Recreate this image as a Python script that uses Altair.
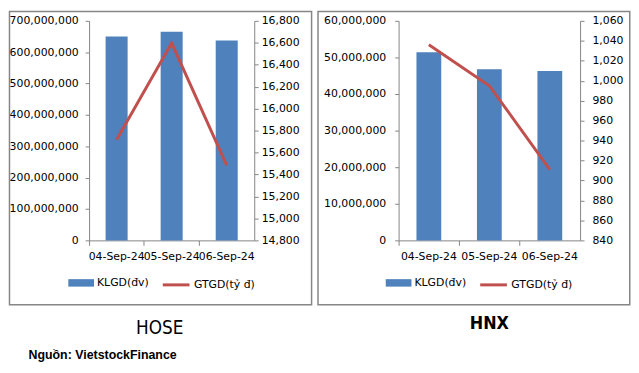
import altair as alt
import pandas as pd

dates = ["04-Sep-24", "05-Sep-24", "06-Sep-24"]
series = ["KLGD(đv)", "GTGD(tỷ đ)"]
hose_vol = [650_000_000, 665_000_000, 637_000_000]
hose_val = [15717, 16598, 15483]
hnx_vol = [51_400_000, 46_800_000, 46_300_000]
hnx_val = [1036, 995, 911]
titles = ["HOSE", "HNX"]
source = "Nguồn: VietstockFinance"

FONT = "DejaVu Sans"
TFONT = "Liberation Sans Narrow, DejaVu Sans Condensed, sans-serif"
BLUE = "#4F81BD"
RED = "#C0504D"
GREY = "#868686"
TXT = "#000000"


def ax(**kw):
    base = dict(
        labelFont=FONT, labelFontSize=11, labelColor=TXT, domainColor=GREY,
        tickColor=GREY, grid=False, title=None, tickSize=4,
    )
    base.update(kw)
    return alt.Axis(**base)


def panel(vol, val, vmax, vstep, wmin, wmax, wstep, width, barfrac, border, lx, title,
          tdx, toff, tweight, tsize, lpl, lpr):
    df = pd.DataFrame({"date": dates, "vol": vol, "val": val,
                       "k1": [series[0]] * len(dates), "k2": [series[1]] * len(dates)})
    base = alt.Chart(df)
    x = alt.X("date:N", sort=dates, title=None,
              scale=alt.Scale(paddingInner=0, paddingOuter=0),
              axis=ax(bandPosition=0, labelAngle=0, tickSize=5,
                      labelPadding=5, labelOverlap=False))
    ly = 252
    bars = base.mark_bar(color=BLUE, width=alt.RelativeBandSize(barfrac)).encode(
        x=x,
        y=alt.Y("vol:Q", scale=alt.Scale(domain=[0, vmax], nice=False),
                axis=ax(values=list(range(0, vmax + 1, vstep)), format=",.0f",
                        labelPadding=lpl)),
        fill=alt.Fill("k1:N", scale=alt.Scale(domain=[series[0]], range=[BLUE]),
                      legend=alt.Legend(title=None, orient="none", legendX=lx[0], legendY=ly,
                                        symbolType="M-1,-0.29H1V0.29H-1Z", symbolSize=676,
                                        symbolStrokeWidth=0, labelFont=FONT, labelFontSize=11,
                                        labelColor=TXT, labelOffset=3, padding=0)),
    )
    line = base.mark_line(strokeWidth=3).encode(
        x=x,
        y=alt.Y("val:Q", scale=alt.Scale(domain=[wmin, wmax], nice=False, zero=False),
                axis=ax(orient="right", values=list(range(wmin, wmax + 1, wstep)),
                        format=",.0f", labelPadding=lpr)),
        stroke=alt.Stroke("k2:N", scale=alt.Scale(domain=[series[1]], range=[RED]),
                          legend=alt.Legend(title=None, orient="none", legendX=lx[1], legendY=ly,
                                            symbolType="stroke", symbolSize=729,
                                            symbolStrokeWidth=3, labelFont=FONT, labelFontSize=11,
                                            labelColor=TXT, labelOffset=3, padding=0)),
    )
    frame = alt.Chart(alt.Data(values=[{"a": 1}])).mark_rect(
        filled=False, stroke=GREY, strokeWidth=1.5).encode(
        x=alt.value(border[0]), x2=alt.value(border[1]),
        y=alt.value(border[2]), y2=alt.value(border[3]))
    return alt.layer(frame, bars, line).resolve_scale(y="independent").properties(
        width=width, height=222,
        title=alt.TitleParams(title, orient="bottom", anchor="middle", frame="group",
                              dx=tdx, offset=toff, font=TFONT,
                              fontSize=tsize, fontWeight=tweight, color=TXT),
    )


left = panel(hose_vol, hose_val, 700_000_000, 100_000_000, 14800, 16800, 200, 167, 0.4,
             (-80.5, 225, -9.5, 287), (-21, 73), titles[0], -12, 14, "normal", 19, 7, 3)
right = panel(hnx_vol, hnx_val, 60_000_000, 10_000_000, 840, 1060, 20, 183.5, 0.41,
              (-81.5, 233.75, -9.5, 287), (-13, 81), titles[1], 0, 10, "bold", 18, 9, 8)

chart = alt.hconcat(left, right, spacing=4).resolve_scale(
    fill="independent", stroke="independent", x="independent"
).resolve_legend(fill="independent", stroke="independent").properties(
    padding={"left": 0, "top": 0, "right": 0, "bottom": -2},
    title=alt.TitleParams(source, orient="bottom", anchor="start", frame="bounds", dx=20,
                          offset=11, font="Liberation Sans", fontSize=12.5, fontWeight="bold",
                          color=TXT),
).configure_view(stroke=None)

chart.save("out.html", embed_options={"renderer": "svg", "actions": False})
